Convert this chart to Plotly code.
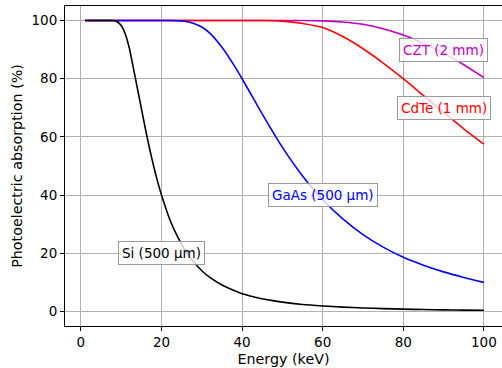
import plotly.graph_objects as go

energy = [1, 5, 8, 9, 10, 11, 12, 13, 14, 15, 16, 17, 18, 19, 20, 22, 24, 26, 28, 30,
          32, 35, 38, 40, 43, 46, 50, 55, 60, 65, 70, 75, 80, 85, 90, 95, 100]

si_500um = [100, 100, 100, 99.6, 98.3, 95.4, 90.6, 83.8, 76.8, 69.8, 62.8, 56.2, 50.2, 44.8, 40.0,
            31.8, 25.6, 20.7, 17.0, 14.0, 11.7, 9.1, 7.2, 6.1, 5.0, 4.1, 3.2, 2.4, 1.9, 1.5,
            1.2, 0.96, 0.8, 0.66, 0.56, 0.47, 0.4]

gaas_500um = [100, 100, 100, 100, 100, 100, 100, 100, 100, 100, 100, 100, 100, 100, 100,
              100, 99.93, 99.7, 99.0, 97.8, 95.7, 90.8, 84.6, 80.0, 72.7, 65.5, 56.4, 46.6, 38.4, 31.8,
              26.4, 22.1, 18.6, 15.9, 13.6, 11.7, 10.0]

cdte_1mm = [100, 100, 100, 100, 100, 100, 100, 100, 100, 100, 100, 100, 100, 100, 100,
            100, 100, 100, 100, 100, 100, 100, 100, 100, 100, 100, 99.8, 99.0, 97.6, 94.5,
            90.3, 85.4, 80.0, 74.2, 68.4, 62.8, 57.5]

czt_2mm = [100, 100, 100, 100, 100, 100, 100, 100, 100, 100, 100, 100, 100, 100, 100,
           100, 100, 100, 100, 100, 100, 100, 100, 100, 100, 100, 100, 100, 99.9, 99.5,
           98.7, 97.2, 95.0, 92.2, 88.8, 84.8, 80.4]

labels = ["CZT (2 mm)", "CdTe (1 mm)", "GaAs (500 µm)", "Si (500 µm)"]
label_x = [90, 90, 60, 20]
label_y = [90, 70, 40, 20]
colors = ["#bf00bf", "#ff0000", "#0000ff", "#000000"]
series = [czt_2mm, cdte_1mm, gaas_500um, si_500um]

FONT = "DejaVu Sans"
FS = 13.5
FS_TITLE = 14.3

fig = go.Figure()
for name, vals, col in zip(labels, series, colors):
    fig.add_trace(go.Scatter(x=energy, y=vals, mode="lines", name=name,
                             line=dict(color=col, width=1.6, shape="spline", smoothing=0.6),
                             showlegend=False))

for name, lx, ly, col in zip(labels, label_x, label_y, colors):
    fig.add_annotation(x=lx, y=ly, text=name, showarrow=False, xanchor="center", yanchor="middle",
                       font=dict(color=col, size=FS, family=FONT),
                       bgcolor="rgba(255,255,255,0.8)", bordercolor="#999999", borderwidth=1, borderpad=3)

axis_common = dict(showgrid=True, gridcolor="#b0b0b0", gridwidth=0.8, zeroline=False, automargin=False,
                   showline=True, linecolor="black", linewidth=1, ticks="outside", ticklen=4,
                   tickcolor="black", tickwidth=1, tickfont=dict(size=FS, color="black", family=FONT))

fig.update_xaxes(range=[-3.95, 104.49], tickvals=[0, 20, 40, 60, 80, 100], mirror=True,
                 title=dict(text="Energy (keV)", font=dict(size=FS_TITLE, color="black", family=FONT), standoff=4),
                 **axis_common)
fig.update_yaxes(range=[-5, 105], tickvals=[0, 20, 40, 60, 80, 100], mirror=False,
                 title=dict(text="Photoelectric absorption (%)", font=dict(size=FS_TITLE, color="black", family=FONT), standoff=5),
                 **axis_common)

fig.update_layout(width=502, height=368, margin=dict(l=65, r=0, t=6, b=42),
                  plot_bgcolor="white", paper_bgcolor="white",
                  font=dict(family=FONT, size=FS, color="black"))

fig.write_html("out.html", config={"displayModeBar": False},
               post_script="document.body.style.margin='0';document.body.style.overflow='hidden';")
